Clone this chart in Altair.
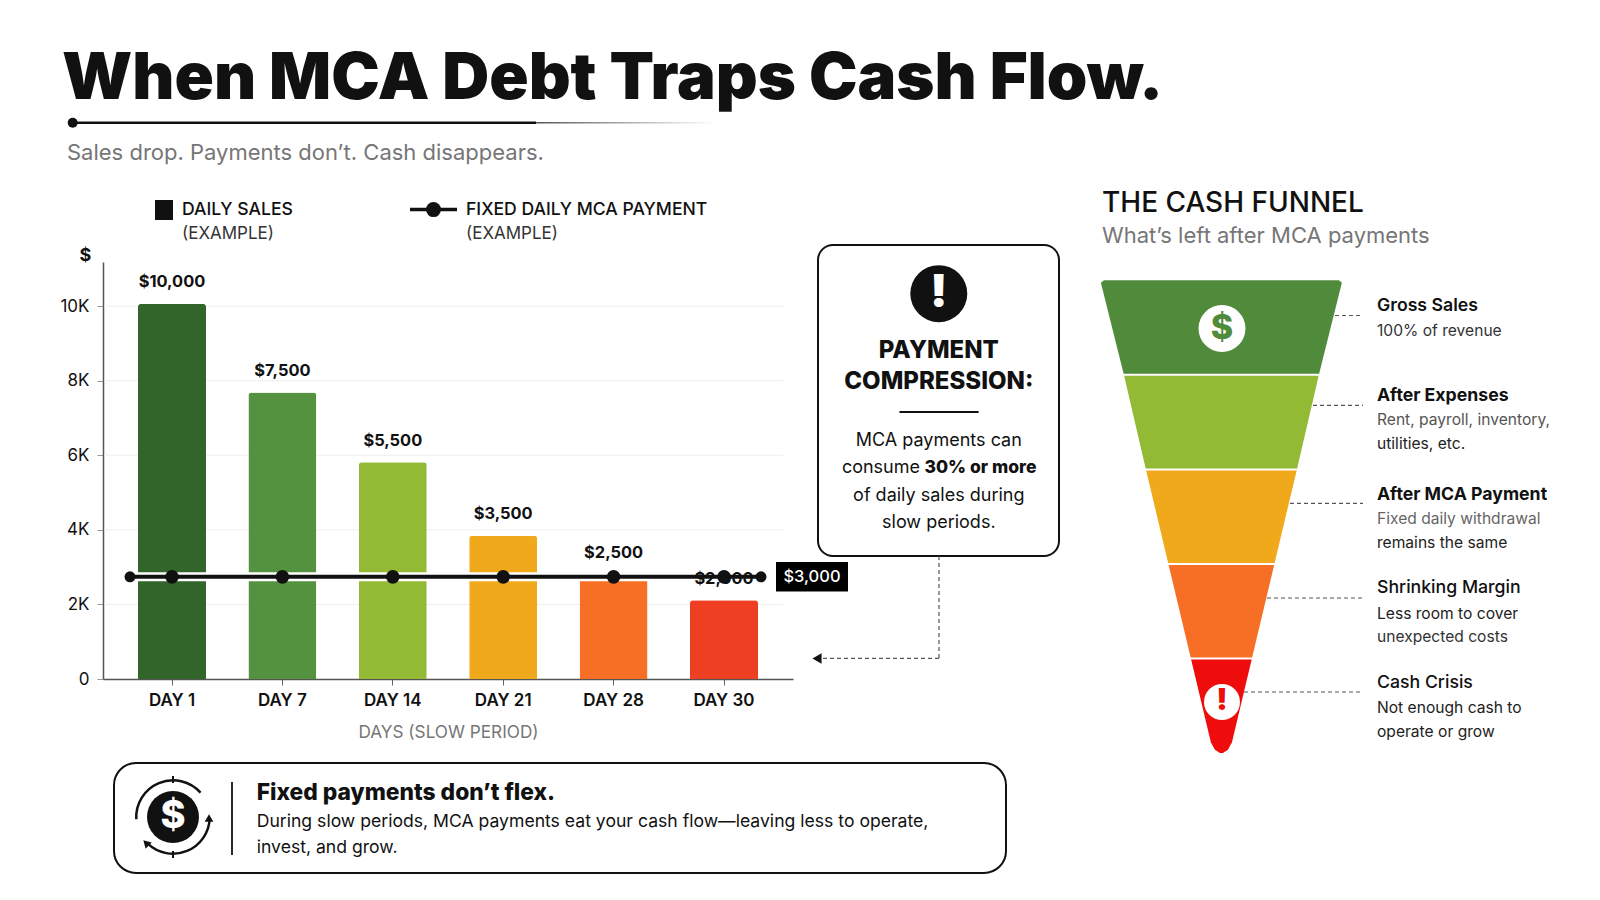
import pandas as pd
import altair as alt

FONT = "Inter"
INK = "#111111"
GREY = "#767676"
X0, Y0 = 103, 262  # page position of the bar plot's top left corner

days = ["DAY 1", "DAY 7", "DAY 14", "DAY 21", "DAY 28", "DAY 30"]
bar_heights = [10060, 7680, 5810, 3840, 2790, 2110]
bar_labels = ["$10,000", "$7,500", "$5,500", "$3,500", "$2,500", "$2,000"]
bar_colors = ["#31652a", "#55923f", "#93ba35", "#f0a91b", "#f76f24", "#ee3f23"]
payment = 2740
payment_label = "$3,000"
y_ticks = [0, 2000, 4000, 6000, 8000, 10000]

stages = ["Gross Sales", "After Expenses", "After MCA Payment", "Shrinking Margin", "Cash Crisis"]
stage_colors = ["#4f8b3b", "#93ba35", "#f0a91b", "#f76f24", "#ee0c0c"]
stage_depth = [[0, 0.5, 20], [20, 40], [40, 60], [60, 80], [80, 97.8, 99.3, 100]]
stage_width = [[235, 241, 195], [195, 151], [151, 106], [106, 61], [61, 21, 13, 3]]
stage_links = [315.5, 405.4, 503.4, 598, 692]
stage_link_from = [1335, 1313, 1290, 1267, 1244]
stage_boundaries = [20, 40, 60, 80]

sales = pd.DataFrame({"day": days, "sales": bar_heights, "label": bar_labels, "payment": [payment] * 6})
grid = pd.DataFrame({"tick": y_ticks[1:]})
funnel = pd.DataFrame(
    [
        {"stage": s, "depth": d, "left": -w / 2, "right": w / 2}
        for s, ds, ws in zip(stages, stage_depth, stage_width)
        for d, w in zip(ds, ws)
    ]
)


def px(x):
    return alt.value(x - X0)


def py(y):
    return alt.value(y - Y0)


def text(s, x, y, size, weight=400, color=INK, align="left"):
    return alt.Chart().mark_text(
        text=s, font=FONT, fontSize=size, fontWeight=weight, color=color, align=align, baseline="middle"
    ).encode(x=px(x), y=py(y))


def dashed(x1, y1, x2, y2):
    return alt.Chart().mark_rule(color="#555555", strokeWidth=1.2, strokeDash=[4, 3]).encode(
        x=px(x1), x2=px(x2), y=py(y1), y2=py(y2)
    )


def rule(x1, y1, x2, y2, width=2, color=INK):
    return alt.Chart().mark_rule(color=color, strokeWidth=width).encode(x=px(x1), x2=px(x2), y=py(y1), y2=py(y2))


def box(x1, y1, x2, y2, radius):
    return alt.Chart().mark_rect(
        fill="white", stroke=INK, strokeWidth=2, cornerRadius=radius
    ).encode(x=px(x1), x2=px(x2), y=py(y1), y2=py(y2))


def dot(x, y, r, color=INK):
    # vega's circle size is the square of the diameter
    return alt.Chart().mark_circle(size=4 * r * r, color=color, opacity=1).encode(x=px(x), y=py(y))


def arc(x, y, start, end):
    return alt.Chart().mark_arc(radius=38, radius2=35.5, theta=start, theta2=end, color=INK).encode(x=px(x), y=py(y))


def arrow(x, y, angle, size=70):
    return alt.Chart().mark_point(
        shape="triangle-up", size=size, angle=angle, filled=True, color=INK, opacity=1
    ).encode(x=px(x), y=py(y))


# invisible rect keeps the canvas at the full page size
canvas = alt.Chart().mark_rect(opacity=0).encode(x=px(8), x2=px(1592), y=py(8), y2=py(892))

# header
title_fade = alt.Chart().mark_rect(
    fill=alt.Gradient(
        gradient="linear", x1=0, x2=1, y1=0, y2=0,
        stops=[alt.GradientStop(offset=0, color="#555555"), alt.GradientStop(offset=1, color="#ffffff")],
    )
).encode(x=px(536), x2=px(714), y=py(122), y2=py(123.5))
header = [
    text("When MCA Debt Traps Cash Flow.", 62, 79, 65, 900),
    rule(73, 122.7, 536, 122.7, 2.6),
    title_fade,
    dot(72.7, 122.7, 5),
    text("Sales drop. Payments don\u2019t. Cash disappears.", 67, 153, 22, 400, GREY),
]

# legend
legend = [
    alt.Chart().mark_rect(color=INK).encode(x=px(155), x2=px(173), y=py(200), y2=py(220)),
    text("DAILY SALES", 182, 210, 17.6, 500),
    text("(EXAMPLE)", 182, 233.6, 17, 400, "#333333"),
    rule(410, 209.6, 457, 209.6, 3.5),
    dot(433.5, 209.6, 7.5),
    text("FIXED DAILY MCA PAYMENT", 466, 210, 17.6, 500),
    text("(EXAMPLE)", 466, 233.6, 17, 400, "#333333"),
]

# bars
x_enc = alt.X(
    "day:N",
    sort=days,
    title="DAYS (SLOW PERIOD)",
    scale=alt.Scale(paddingInner=0.384, paddingOuter=0.317),
    axis=alt.Axis(
        labelAngle=0, labelFont=FONT, labelFontSize=17, labelFontWeight=600, labelColor=INK, labelPadding=7,
        titleFont=FONT, titleFontSize=17.2, titleFontWeight=400, titleColor=GREY, titlePadding=15,
        tickSize=6, tickColor="#666666", domainColor="#555555", domainWidth=1.5, grid=False,
    ),
)
y_scale = alt.Scale(domain=[0, 11183])
y_enc = alt.Y(
    "sales:Q",
    scale=y_scale,
    title="$",
    axis=alt.Axis(
        values=y_ticks, labelExpr="datum.value == 0 ? '0' : datum.value / 1000 + 'K'",
        labelFont=FONT, labelFontSize=17, labelColor=INK, labelPadding=8,
        tickSize=6, tickColor="#999999", domainColor="#555555", domainWidth=1.5, grid=False,
        titleAngle=0, titleFont=FONT, titleFontSize=18, titleFontWeight=700, titleColor=INK,
        titleX=-18, titleY=-7, titleAlign="center", titleBaseline="middle",
    ),
)
base = alt.Chart(sales)
grid_rules = alt.Chart(grid).mark_rule(color="#eeeeee", strokeWidth=1).encode(
    x=px(104), x2=px(783), y=alt.Y("tick:Q", scale=y_scale)
)
bars = base.mark_bar(cornerRadiusTopLeft=3, cornerRadiusTopRight=3, size=68).encode(
    x=x_enc,
    y=y_enc,
    color=alt.Color("day:N", scale=alt.Scale(domain=days, range=bar_colors), legend=None),
)
band = alt.Chart().mark_rule(color="white", strokeWidth=9).encode(
    x=px(130), x2=px(761), y=alt.Y(datum=payment, scale=y_scale)
)
bar_text = base.mark_text(font=FONT, fontSize=16.4, fontWeight=700, color=INK, dy=-21.5, baseline="middle").encode(
    x=alt.X("day:N", sort=days),
    y=alt.Y("sales:Q", scale=y_scale),
    text="label:N",
)
pay_line = alt.Chart().mark_rule(color=INK, strokeWidth=4).encode(
    x=px(130), x2=px(761), y=alt.Y(datum=payment, scale=y_scale)
)
pay_dots = base.mark_circle(size=185, color=INK, opacity=1).encode(
    x=alt.X("day:N", sort=days),
    y=alt.Y("payment:Q", scale=y_scale),
)
pay_end_a = alt.Chart().mark_circle(size=120, color=INK, opacity=1).encode(
    x=px(130), y=alt.Y(datum=payment, scale=y_scale)
)
pay_end_b = alt.Chart().mark_circle(size=120, color=INK, opacity=1).encode(
    x=px(761), y=alt.Y(datum=payment, scale=y_scale)
)
bar_chart = alt.layer(grid_rules, bars, band, bar_text, pay_line, pay_dots, pay_end_a, pay_end_b)

pay_tag = [
    alt.Chart().mark_rect(color="black").encode(x=px(776), x2=px(848), y=py(562), y2=py(591.5)),
    text(payment_label, 812, 576.6, 16.5, 500, "white", "center"),
]

# callout
callout = [
    box(818, 245, 1059, 556, 15),
    dot(938.8, 293.7, 28.5),
    text("!", 938.8, 293, 46, 900, "white", "center"),
    text("PAYMENT", 938.8, 351, 24, 800, INK, "center"),
    text("COMPRESSION:", 938.8, 382, 24, 800, INK, "center"),
    rule(899.5, 412, 978.6, 412, 2),
    text("MCA payments can", 938.8, 441, 18, 400, INK, "center"),
    text("consume", 920, 468, 18, 400, INK, "right"),
    text("30% or more", 924.5, 468, 17.5, 800),
    text("of daily sales during", 938.8, 495.7, 18, 400, INK, "center"),
    text("slow periods.", 938.8, 523, 18, 400, INK, "center"),
    dashed(939, 556, 939, 658.4),
    dashed(939, 658.4, 822, 658.4),
    arrow(817, 658.4, 270, 110),
]

# funnel
funnel_x = alt.Scale(domain=[-120, 120], range=[1101.4 - X0, 1341.4 - X0])
funnel_y = alt.Scale(domain=[0, 100], range=[280.3 - Y0, 753 - Y0])
funnel_areas = alt.Chart(funnel).mark_area(orient="horizontal").encode(
    y=alt.Y("depth:Q", scale=funnel_y, axis=None),
    x=alt.X("left:Q", scale=funnel_x, axis=None),
    x2="right:Q",
    color=alt.Color("stage:N", scale=alt.Scale(domain=stages, range=stage_colors), legend=None),
)
funnel_gaps = alt.Chart(pd.DataFrame({"depth": stage_boundaries})).mark_rule(color="white", strokeWidth=2).encode(
    y=alt.Y("depth:Q", scale=funnel_y, axis=None),
    x=alt.value(1090 - X0),
    x2=alt.value(1350 - X0),
)
funnel_chart = alt.layer(funnel_areas, funnel_gaps)

funnel_marks = [
    text("THE CASH FUNNEL", 1102, 204, 28, 500),
    text("What\u2019s left after MCA payments", 1102, 236, 22, 400, GREY),
    dot(1222, 328.5, 23.5, "white"),
    text("$", 1222, 329, 34, 800, "#4f8b3b", "center"),
    dot(1222, 702, 18, "white"),
    text("!", 1222, 701, 30, 900, "#ee0c0c", "center"),
]
for y_link, x_link in zip(stage_links, stage_link_from):
    funnel_marks.append(dashed(x_link, y_link, 1363, y_link))

funnel_text = [
    ("Gross Sales", 306, 600, INK), ("100% of revenue", 330.8, 400, "#333333"),
    ("After Expenses", 396, 700, INK), ("Rent, payroll, inventory,", 420, 400, "#555555"),
    ("utilities, etc.", 444, 400, "#222222"),
    ("After MCA Payment", 494.5, 700, INK), ("Fixed daily withdrawal", 519, 400, "#666666"),
    ("remains the same", 543, 400, "#222222"),
    ("Shrinking Margin", 588, 500, INK), ("Less room to cover", 613.6, 400, "#222222"),
    ("unexpected costs", 637, 400, "#333333"),
    ("Cash Crisis", 683, 500, INK), ("Not enough cash to", 708, 400, "#222222"),
    ("operate or grow", 732, 400, "#222222"),
]
for s, y_text, weight, color in funnel_text:
    size = 17.7 if weight >= 500 else 15.6
    funnel_marks.append(text(s, 1377, y_text, size, weight, color))

# bottom note
note = [
    box(114, 763, 1006, 873, 22),
    arc(173, 817, 4.65, 7.13),
    arc(173, 817, 1.6, 3.9),
    arrow(209, 818, 0, 75),
    arrow(146, 843, 315, 75),
    rule(173, 776, 173, 783, 2),
    rule(173, 851, 173, 858, 2),
    dot(173, 817, 26),
    text("$", 173, 817, 38, 800, "white", "center"),
    rule(232, 782, 232, 855, 1.8),
    text("Fixed payments don\u2019t flex.", 256.7, 793, 22.8, 800),
    text("During slow periods, MCA payments eat your cash flow\u2014leaving less to operate,", 256.7, 822, 17.6, 400),
    text("invest, and grow.", 256.7, 847.5, 17.6, 400),
]

chart = alt.layer(
    canvas, bar_chart, *pay_tag, funnel_chart, *header, *legend, *callout, *funnel_marks, *note
).resolve_scale(x="independent", y="independent", color="independent").properties(
    width=690, height=417, padding=0, background="white"
).configure_view(stroke=None)

chart.save("out.html", embed_options={"renderer": "svg", "actions": False})
